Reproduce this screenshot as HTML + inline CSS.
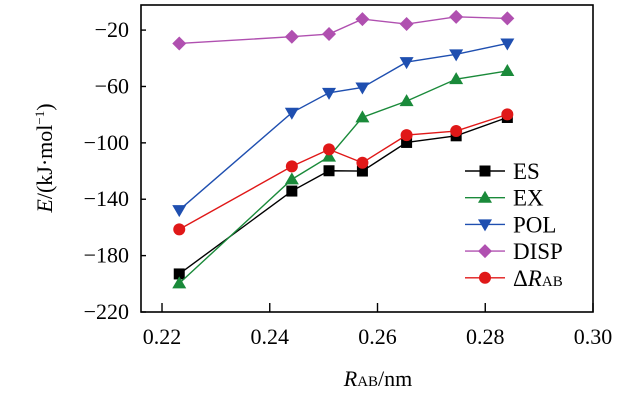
<!DOCTYPE html>
<html><head><meta charset="utf-8"><style>
html,body{margin:0;padding:0;background:#fff;}
svg{display:block;}
svg text{font-family:"Liberation Serif","Times New Roman",serif;}
</style></head><body>
<svg id="chart" width="630" height="400" viewBox="0 0 630 400" font-family="Liberation Serif, serif">
<g id="axes"></g><g id="series"></g><g id="legend"></g>
<text x="378" y="386" font-size="22" text-anchor="middle"><tspan font-style="italic">R</tspan><tspan font-size="15">AB</tspan>/nm</text>
<text transform="translate(52,158) rotate(-90)" font-size="22" text-anchor="middle"><tspan font-style="italic">E</tspan>/(kJ·mol<tspan font-size="13" dy="-8">−1</tspan><tspan dy="8">)</tspan></text>
</svg>
<script>
const xValues=[0.2232,0.2441,0.2510,0.2572,0.2654,0.2746,0.2841];
const esValues=[-193,-134.2,-119.8,-120,-99.7,-95,-82];
const exValues=[-199.7,-125.9,-109.8,-81.9,-70.4,-54.8,-49];
const polValues=[-147.7,-78.6,-64.5,-60.7,-42.7,-37.2,-29.5];
const dispValues=[-29.5,-24.7,-22.8,-12.2,-15.7,-10.6,-11.7];
const drValues=[-161.4,-116.7,-104.6,-114.1,-94.5,-91.6,-79.8];
const xTicks=[0.22,0.24,0.26,0.28,0.30];
const xTickLabels=["0.22","0.24","0.26","0.28","0.30"];
const yTicks=[-20,-60,-100,-140,-180,-220];
const yTickLabels=["−20","−60","−100","−140","−180","−220"];
const seriesNames=["ES","EX","POL","DISP","ΔR"];

const L=141,R=593,T=5,B=312;
const xMin=0.2161,xMax=0.30,yMin=-220,yMax=-2.2;
const sx=v=>L+(v-xMin)/(xMax-xMin)*(R-L);
const sy=v=>B-(v-yMin)/(yMax-yMin)*(B-T);
const NS="http://www.w3.org/2000/svg";
function mk(tag,attrs,parent){const e=document.createElementNS(NS,tag);for(const k in attrs)e.setAttribute(k,attrs[k]);parent.appendChild(e);return e;}
const axes=document.getElementById('axes');
const frame=mk('rect',{x:L,y:T,width:R-L,height:B-T,fill:'none',stroke:'#000','stroke-width':1.6},axes);


xTicks.forEach((t,i)=>{
  const x=sx(t);
  const tk=mk('line',{x1:x,x2:x,y1:B,y2:B-9,stroke:'#000','stroke-width':1.4},axes);
  
  
  const tx=mk('text',{x:x,y:344,'font-size':22,'text-anchor':'middle','font-family':'Liberation Serif, serif'},axes);
  tx.textContent=xTickLabels[i];
  
  
});
yTicks.forEach((t,i)=>{
  const y=sy(t);
  const tk=mk('line',{x1:L,x2:L+5,y1:y,y2:y,stroke:'#000','stroke-width':1.4},axes);
  
  
  const tx=mk('text',{x:129,y:y+7,'font-size':22,'text-anchor':'end','font-family':'Liberation Serif, serif'},axes);
  tx.textContent=yTickLabels[i];
  
  
});
function marker(type,x,y,color,parent){
  let e;
  if(type==='square')e=mk('rect',{x:x-5.5,y:y-5.5,width:11,height:11,fill:color},parent);
  else if(type==='up')e=mk('polygon',{points:`${x},${y-7} ${x-7},${y+5} ${x+7},${y+5}`,fill:color},parent);
  else if(type==='down')e=mk('polygon',{points:`${x},${y+7} ${x-7},${y-5} ${x+7},${y-5}`,fill:color},parent);
  else if(type==='diamond')e=mk('polygon',{points:`${x},${y-7} ${x+7},${y} ${x},${y+7} ${x-7},${y}`,fill:color},parent);
  else e=mk('circle',{cx:x,cy:y,r:6,fill:color},parent);
  return e;
}
const defs=[
 {vals:esValues,color:'#000000',m:'square',key:'es'},
 {vals:exValues,color:'#1a8a3a',m:'up',key:'ex'},
 {vals:polValues,color:'#1f4fb0',m:'down',key:'pol'},
 {vals:dispValues,color:'#b050b0',m:'diamond',key:'disp'},
 {vals:drValues,color:'#e01818',m:'circle',key:'delta-rab'}];
const sg=document.getElementById('series');
defs.forEach(d=>{
  const g=mk('g',{},sg);
  
  
  const pts=d.vals.map((v,i)=>sx(xValues[i])+','+sy(v)).join(' ');
  const pl=mk('polyline',{points:pts,fill:'none',stroke:d.color,'stroke-width':1.4},g);
  
  
  d.vals.forEach((v,i)=>{
    const m=marker(d.m,sx(xValues[i]),sy(v),d.color,g);
    
    
  });
});
const lg=document.getElementById('legend');
defs.forEach((d,i)=>{
  const y=171+i*26.7;
  const g=mk('g',{},lg);
  
  
  mk('line',{x1:465,x2:505,y1:y,y2:y,stroke:d.color,'stroke-width':1.4},g);
  marker(d.m,485,y,d.color,g);
  const t=mk('text',{x:513,y:y+8,'font-size':23,'font-family':'Liberation Serif, serif'},g);
  if(i===4){
    t.textContent='Δ';
    const a=mk('tspan',{'font-style':'italic'},t);a.textContent='R';
    const b=mk('tspan',{'font-size':15},t);b.textContent='AB';
  } else t.textContent=seriesNames[i];
});
</script>
</body></html>
